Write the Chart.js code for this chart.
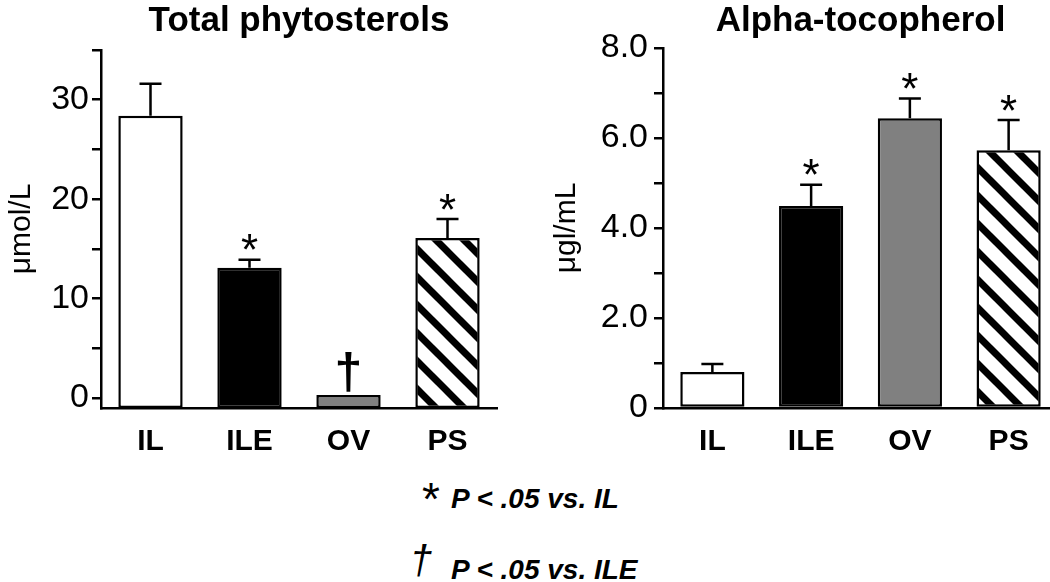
<!DOCTYPE html>
<html>
<head>
<meta charset="utf-8">
<script src="https://cdn.jsdelivr.net/npm/chart.js@4.4.1/dist/chart.umd.min.js"></script>
<style>
html, body { margin: 0; padding: 0; background: #fff; overflow: hidden; width: 1050px; height: 582px; }
canvas { position: absolute; top: 0; }
#sterols { left: 0; }
#toco { left: 530px; }
.note { position: absolute; font-family: 'Liberation Sans', Arial, sans-serif; line-height: 1; white-space: nowrap; color: #000; }
.txt { font-size: 28px; font-weight: bold; font-style: italic; }
</style>
</head>
<body>
<canvas id="sterols" width="520" height="470"></canvas>
<canvas id="toco" width="530" height="470"></canvas>
<div class="note" style="left:422px;top:476px;font-size:46px">*</div>
<div class="note txt" style="left:451px;top:485px">P &lt; .05 vs. IL</div>
<div class="note" style="left:410px;top:540px;font-size:40px;font-style:italic">†</div>
<div class="note txt" style="left:451px;top:556px">P &lt; .05 vs. ILE</div>
<script>
// groups on the x axis
var groups = ['IL', 'ILE', 'OV', 'PS'];

// total phytosterols, umol/L
var sterolMean = [28.4, 13.1, 0.3, 16.1];
var sterolSE = [3.2, 0.8, 0, 1.9];
var sterolMarks = ['', '*', '†', '*'];
var sterolTicks = [0, 5, 10, 15, 20, 25, 30, 35];
var sterolTickLabels = ['0', '', '10', '', '20', '', '30', ''];

// alpha-tocopherol, ug/mL
var tocoMean = [0.8, 4.49, 6.44, 5.73];
var tocoSE = [0.18, 0.47, 0.44, 0.67];
var tocoMarks = ['', '*', '*', '*'];
var tocoTicks = [0, 1, 2, 3, 4, 5, 6, 7, 8];
var tocoTickLabels = ['0', '', '2.0', '', '4.0', '', '6.0', '', '8.0'];

var FONT = 'Liberation Sans';

// diagonal black/white stripes for PS
function stripes() {
    var s = 28, c = document.createElement('canvas');
    c.width = s; c.height = s;
    var g = c.getContext('2d');
    g.fillStyle = '#fff';
    g.fillRect(0, 0, s, s);
    g.strokeStyle = '#000';
    g.lineWidth = 7;
    [-s, 0, s].forEach(function (k) {
        g.beginPath();
        g.moveTo(k - 4, -4);
        g.lineTo(k + s + 4, s + 4);
        g.stroke();
    });
    return g.createPattern(c, 'repeat');
}

// error bars (upper only) and significance marks
function annotate(mean, se, marks) {
    return {
        id: 'annotate',
        afterDatasetsDraw: function (chart) {
            var ctx = chart.ctx, xs = chart.scales.x, ys = chart.scales.y;
            ctx.save();
            ctx.strokeStyle = '#000';
            ctx.fillStyle = '#000';
            ctx.lineWidth = 2.5;
            ctx.textAlign = 'center';
            ctx.textBaseline = 'alphabetic';
            mean.forEach(function (m, i) {
                var px = xs.getPixelForValue(i);
                var barTop = ys.getPixelForValue(m);
                var top = ys.getPixelForValue(m + se[i]);
                if (se[i] > 0) {
                    ctx.beginPath();
                    ctx.moveTo(px, barTop);
                    ctx.lineTo(px, top);
                    ctx.moveTo(px - 11, top);
                    ctx.lineTo(px + 11, top);
                    ctx.stroke();
                }
                if (marks[i] === '*') {
                    ctx.font = '44px "' + FONT + '"';
                    ctx.fillText('*', px, top - 20 + 0.58 * 44);
                } else if (marks[i] === '†') {
                    ctx.font = 'bold 50px "' + FONT + '"';
                    ctx.fillText('†', px, top - 7);
                }
            });
            ctx.restore();
        }
    };
}

function makeChart(id, o) {
    return new Chart(document.getElementById(id), {
        type: 'bar',
        data: {
            labels: groups,
            datasets: [{
                data: o.mean,
                base: o.min,
                backgroundColor: ['#ffffff', '#000000', '#808080', stripes()],
                borderColor: '#000',
                borderWidth: 2.5,
                borderSkipped: false,
                barPercentage: 0.65,
                categoryPercentage: 1
            }]
        },
        options: {
            responsive: false,
            animation: false,
            devicePixelRatio: 1,
            layout: { padding: { left: 0, right: o.padRight, top: 0, bottom: 0 } },
            plugins: {
                legend: { display: false },
                tooltip: { enabled: false },
                title: {
                    display: true,
                    text: o.title,
                    fullSize: false,
                    color: '#000',
                    font: { family: FONT, size: 35, weight: 'bold' },
                    padding: { top: 0, bottom: o.titleGap }
                }
            },
            scales: {
                x: {
                    grid: { display: false },
                    border: { display: true, color: '#000', width: 2.5 },
                    ticks: { color: '#000', padding: 8, font: { family: FONT, size: 30, weight: 'bold' } },
                    afterFit: function (s) { s.height = 62; }
                },
                y: {
                    min: o.min,
                    max: o.max,
                    grid: { drawOnChartArea: false, drawTicks: true, tickLength: 9, color: '#000', lineWidth: 2.5 },
                    border: { display: true, color: '#000', width: 2.5 },
                    ticks: {
                        color: '#000',
                        padding: o.tickPad,
                        font: { family: FONT, size: 34 },
                        callback: function (v) { return o.tickLabels[o.ticks.indexOf(v)] || ''; }
                    },
                    afterBuildTicks: function (s) {
                        s.ticks = o.ticks.map(function (v) { return { value: v }; });
                    },
                    title: {
                        display: true,
                        text: o.yTitle,
                        color: '#000',
                        font: { family: FONT, size: 30 },
                        padding: { top: o.yTitlePad, bottom: 0 }
                    },
                    afterFit: function (s) { s.width = o.yWidth; }
                }
            }
        },
        plugins: [annotate(o.mean, o.se, o.marks)]
    });
}

makeChart('sterols', {
    title: 'Total phytosterols', yTitle: 'μmol/L',
    mean: sterolMean, se: sterolSE, marks: sterolMarks,
    ticks: sterolTicks, tickLabels: sterolTickLabels,
    min: -1, max: 35,
    yWidth: 101, padRight: 23, titleGap: 8, tickPad: 3, yTitlePad: 4
});

makeChart('toco', {
    title: 'Alpha-tocopherol', yTitle: 'μgl/mL',
    mean: tocoMean, se: tocoSE, marks: tocoMarks,
    ticks: tocoTicks, tickLabels: tocoTickLabels,
    min: 0, max: 8,
    yWidth: 133, padRight: 2, titleGap: 6, tickPad: 6, yTitlePad: 19
});
</script>
</body>
</html>
